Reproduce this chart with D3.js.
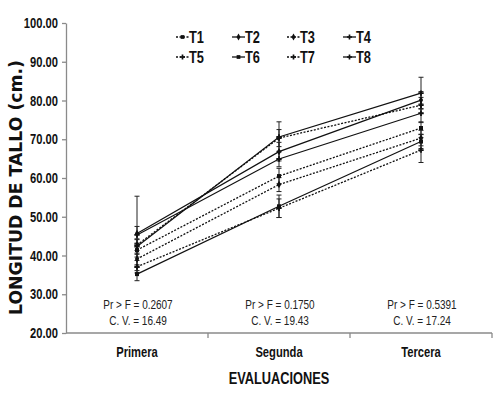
<!DOCTYPE html>
<html>
<head>
<meta charset="utf-8">
<script src="https://cdn.jsdelivr.net/npm/d3@7/dist/d3.min.js"></script>
<style>
  html, body { margin: 0; padding: 0; background: #fff; }
  svg { display: block; }
  text { font-family: "Liberation Sans", Arial, sans-serif; }
</style>
</head>
<body>
<div id="chart"></div>
<script>
// Longitud de tallo por evaluacion, tratamientos T1..T8
const evaluaciones = ['Primera', 'Segunda', 'Tercera'];
const tratamientos = ['T1', 'T2', 'T3', 'T4', 'T5', 'T6', 'T7', 'T8'];
const dashedSeries = ['T1', 'T3', 'T5', 'T7'];

const valT1 = [41.4, 60.5, 72.9];
const valT2 = [45.7, 66.8, 80.1];
const valT3 = [39.1, 58.3, 70.3];
const valT4 = [42.3, 70.6, 81.9];
const valT5 = [37.1, 52.2, 67.2];
const valT6 = [35.2, 52.7, 69.4];
const valT7 = [42.7, 70.3, 78.8];
const valT8 = [45.3, 64.9, 76.7];

const errT1 = [1.8, 2.0, 1.6];
const errT2 = [9.6, 2.4, 2.2];
const errT3 = [1.5, 1.8, 2.0];
const errT4 = [2.0, 3.9, 4.1];
const errT5 = [1.6, 2.4, 3.2];
const errT6 = [1.7, 2.9, 1.8];
const errT7 = [1.4, 2.2, 2.0];
const errT8 = [2.2, 2.0, 2.4];

const prF = ['Pr > F = 0.2607', 'Pr > F = 0.1750', 'Pr > F = 0.5391'];
const cv = ['C. V. = 16.49', 'C. V. = 19.43', 'C. V. = 17.24'];
const yTicks = [20, 30, 40, 50, 60, 70, 80, 90, 100];

const values = [valT1, valT2, valT3, valT4, valT5, valT6, valT7, valT8];
const errors = [errT1, errT2, errT3, errT4, errT5, errT6, errT7, errT8];
const symbols = [d3.symbolSquare, d3.symbolDiamond, d3.symbolDiamond, d3.symbolCross,
                 d3.symbolCross, d3.symbolSquare, d3.symbolCross, d3.symbolCross];

const series = tratamientos.map((t, i) => ({
  name: t,
  dashed: dashedSeries.includes(t),
  symbol: symbols[i],
  points: evaluaciones.map((e, j) => ({ cat: e, v: values[i][j], err: errors[i][j] }))
}));

const width = 500, height = 395;
const margin = { top: 23, right: 8, bottom: 62, left: 66 };
const NARROW = 0.8;

const svg = d3.select('#chart').append('svg')
  .attr('width', width)
  .attr('height', height);

// condensed text, since no narrow font is installed
function narrowText(parent, tx, ty, str, size, weight, anchor, fill) {
  return parent.append('text')
    .attr('transform', `translate(${tx},${ty}) scale(${NARROW},1)`)
    .attr('text-anchor', anchor || 'middle')
    .style('font-size', size + 'px')
    .style('font-weight', weight || 'normal')
    .attr('fill', fill || '#111')
    .text(str);
}

const x = d3.scaleBand()
  .domain(evaluaciones)
  .range([margin.left, width - margin.right]);

const y = d3.scaleLinear()
  .domain([20, 100])
  .range([height - margin.bottom, margin.top]);

const cx = d => x(d) + x.bandwidth() / 2;

// Y axis
const yAxis = svg.append('g')
  .attr('transform', `translate(${margin.left},0)`)
  .call(d3.axisLeft(y).tickValues(yTicks).tickFormat(d3.format('.2f')).tickSize(4).tickSizeOuter(0));
yAxis.select('.domain').attr('stroke', '#8a8a8a').attr('stroke-width', 1.3);
yAxis.selectAll('.tick line').attr('stroke', '#8a8a8a').attr('stroke-width', 1.3);
yAxis.selectAll('.tick text')
  .attr('x', null).attr('dy', null)
  .attr('transform', `translate(-8,4.5) scale(${NARROW},1)`)
  .style('font-size', '14px')
  .style('font-weight', 'bold')
  .attr('fill', '#111');

// X axis (ticks on category boundaries)
const xAxisY = y(20);
svg.append('line')
  .attr('x1', margin.left).attr('x2', width - margin.right)
  .attr('y1', xAxisY).attr('y2', xAxisY)
  .attr('stroke', '#8a8a8a').attr('stroke-width', 1.3);
const bounds = evaluaciones.map(e => x(e) + x.bandwidth());
svg.selectAll('.xtick')
  .data(bounds)
  .join('line')
  .attr('class', 'xtick')
  .attr('x1', d => d).attr('x2', d => d)
  .attr('y1', xAxisY).attr('y2', xAxisY + 5)
  .attr('stroke', '#8a8a8a').attr('stroke-width', 1.3);

evaluaciones.forEach(e => narrowText(svg, cx(e), xAxisY + 24, e, 14, 'bold'));

// Axis titles
narrowText(svg, cx('Segunda'), 384, 'EVALUACIONES', 16, 'bold');

svg.append('text')
  .attr('transform', `translate(22,${(60 + 315) / 2}) rotate(-90)`)
  .attr('text-anchor', 'middle')
  .attr('textLength', 255)
  .attr('lengthAdjust', 'spacingAndGlyphs')
  .style('font-family', '"DejaVu Sans", sans-serif')
  .style('font-size', '17px')
  .style('font-weight', 'bold')
  .attr('fill', '#111')
  .text('LONGITUD  DE  TALLO  (cm.)');

// Statistics annotations
evaluaciones.forEach((e, i) => {
  narrowText(svg, cx(e) + 1, 309, prF[i], 12.5, 'normal', 'middle', '#222');
  narrowText(svg, cx(e) + 1, 325, cv[i], 12.5, 'normal', 'middle', '#222');
});

// Error bars
const errG = svg.append('g').attr('class', 'errors');
series.forEach(s => {
  s.points.forEach(p => {
    const px = cx(p.cat);
    errG.append('line')
      .attr('x1', px).attr('x2', px)
      .attr('y1', y(p.v + p.err)).attr('y2', y(p.v - p.err))
      .attr('stroke', '#222').attr('stroke-width', 1);
    [p.v + p.err, p.v - p.err].forEach(v => {
      errG.append('line')
        .attr('x1', px - 2.5).attr('x2', px + 2.5)
        .attr('y1', y(v)).attr('y2', y(v))
        .attr('stroke', '#222').attr('stroke-width', 1);
    });
  });
});

// Lines
const line = d3.line()
  .x(d => cx(d.cat))
  .y(d => y(d.v));

svg.append('g').attr('class', 'lines')
  .selectAll('path')
  .data(series)
  .join('path')
  .attr('d', d => line(d.points))
  .attr('fill', 'none')
  .attr('stroke', '#111')
  .attr('stroke-width', d => d.dashed ? 1.3 : 1.2)
  .attr('stroke-dasharray', d => d.dashed ? '2,1.5' : null);

// Markers
const markG = svg.append('g').attr('class', 'markers');
series.forEach(s => {
  markG.selectAll(null)
    .data(s.points)
    .join('path')
    .attr('transform', d => `translate(${cx(d.cat)},${y(d.v)})`)
    .attr('d', d3.symbol().type(s.symbol).size(16))
    .attr('fill', '#111');
});

// Legend
const legCols = [176, 232, 287, 343];
const legRows = [37, 57];
const leg = svg.append('g').attr('class', 'legend');
series.forEach((s, i) => {
  const lx = legCols[i % 4];
  const ly = legRows[Math.floor(i / 4)];
  const g = leg.append('g').attr('transform', `translate(${lx},${ly})`);
  g.append('line')
    .attr('x1', 0).attr('x2', 13)
    .attr('y1', 0).attr('y2', 0)
    .attr('stroke', '#111').attr('stroke-width', 1.3)
    .attr('stroke-dasharray', s.dashed ? '2,1.5' : null);
  g.append('path')
    .attr('transform', 'translate(6.5,0)')
    .attr('d', d3.symbol().type(s.symbol).size(14))
    .attr('fill', '#111');
  narrowText(g, 13, 5.5, s.name, 16, 'bold', 'start');
});
</script>
</body>
</html>
